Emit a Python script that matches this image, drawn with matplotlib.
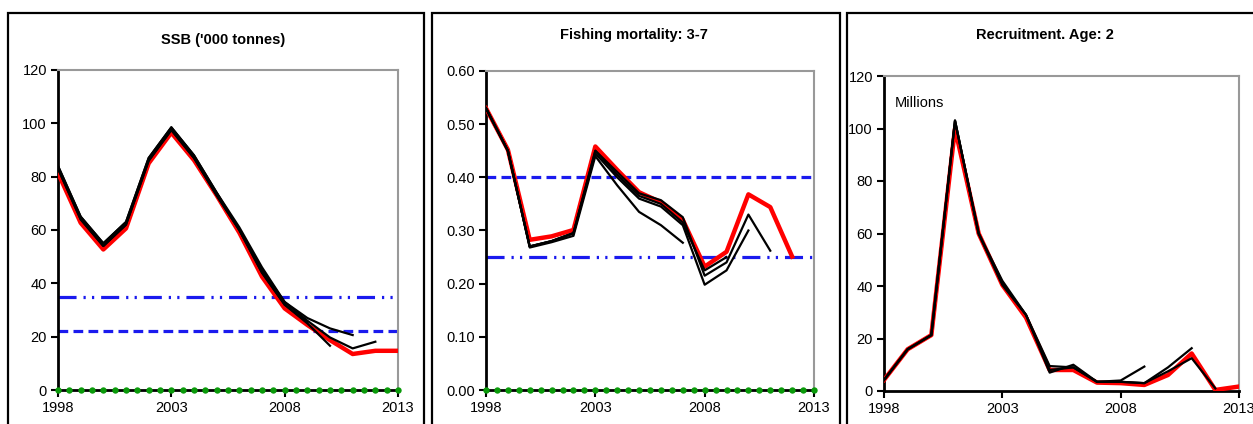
import matplotlib
matplotlib.use("Agg")
import matplotlib.pyplot as plt
from matplotlib.patches import Rectangle

plt.rcParams['font.family'] = ['Liberation Sans', 'DejaVu Sans']
plt.rcParams['lines.scale_dashes'] = False

years = list(range(1998, 2014))

# SSB ('000 tonnes) - retrospective runs, last one is the current assessment
ssb_retro = [
    [84, 65, 55, 63, 87, 98.5, 88, 74, 60, 45, 33, 27, 23.1, 20.6],
    [84, 65, 55, 63, 87, 98.5, 88, 74, 61, 46, 33, 26, 19.7, 15.6, 18.1],
    [83, 64, 54, 62, 86, 97.5, 87, 73, 60, 44, 32, 25, 16.6],
    [83, 64, 54, 62, 86, 97.5, 87, 73, 60, 44, 32, 25.5],
]
ssb_last = [81.4, 62.7, 52.7, 60.6, 85, 96.5, 86.2, 73, 59, 42.5, 30.6, 24.4, 18.7, 13.5, 14.7, 14.7]
ssb_bpa = 35
ssb_blim = 22

# Fishing mortality ages 3-7
f_retro = [
    [0.53, 0.45, 0.27, 0.28, 0.295, 0.45, 0.41, 0.37, 0.357, 0.325, 0.215, 0.24, 0.33, 0.262],
    [0.53, 0.45, 0.27, 0.28, 0.295, 0.445, 0.40, 0.36, 0.345, 0.31, 0.198, 0.225, 0.30],
    [0.53, 0.45, 0.27, 0.28, 0.295, 0.45, 0.405, 0.365, 0.35, 0.315, 0.225, 0.25],
    [0.53, 0.45, 0.268, 0.278, 0.29, 0.44, 0.385, 0.335, 0.31, 0.277],
]
f_last = [0.530, 0.452, 0.2825, 0.289, 0.301, 0.458, 0.414, 0.372, 0.353, 0.32, 0.232, 0.26, 0.368, 0.344, 0.251]
f_pa = 0.40
f_msy = 0.25

# Recruitment age 2 (millions)
r_retro = [
    [4.2, 15.9, 21.3, 103, 60, 42, 29, 7, 10, 3.5, 4, 9.3],
    [4.2, 15.9, 21.3, 103, 60, 41, 29, 9.5, 9, 3.5, 3.5, 3, 9, 16.3],
    [4.2, 15.9, 21.3, 103, 60, 40.4, 29, 8, 9, 3.5, 3.5, 3, 7.5, 12.5, 1],
]
r_last = [4.2, 15.9, 21.3, 100, 60, 40.4, 28, 8, 8, 3.2, 3, 2.3, 6.1, 14.3, 0.4, 1.7]

fig = plt.figure(figsize=(12.53, 4.24), dpi=100)

# panel frames (cut off at the bottom of the picture)
for x0, x1 in [(8, 424), (432, 840), (847, 1262)]:
    fig.patches.append(Rectangle((x0 / 1253, -0.05), (x1 - x0) / 1253, (424 - 13) / 424 + 0.05,
                                 transform=fig.transFigure, fill=False,
                                 edgecolor='black', linewidth=1.6))


def style_axes(ax, ymax, yticks, fmt):
    ax.set_xlim(1998, 2013)
    ax.set_ylim(0, ymax)
    ax.set_xticks([1998, 2003, 2008, 2013])
    ax.set_yticks(yticks)
    ax.set_yticklabels([fmt.format(v) for v in yticks])
    for s in ['left', 'bottom']:
        ax.spines[s].set_color('black')
        ax.spines[s].set_linewidth(2)
    for s in ['top', 'right']:
        ax.spines[s].set_color('#999999')
        ax.spines[s].set_linewidth(1.5)
    ax.tick_params(direction='out', length=5, width=1.5, labelsize=10.5, pad=3)
    ax.patch.set_alpha(0)


half_years = [1998 + 0.5 * i for i in range(31)]


def zero_line(ax):
    # green dotted reference line on the x axis
    ax.plot(half_years, [0] * len(half_years), linestyle='none', marker='o', ms=4.6,
            mew=0, color='#0a9a0a', clip_on=False, zorder=5)


BLUE = '#1a1aee'
DASHDOTDOT = (0, (13, 5, 1.6, 4.5, 1.6, 5))
DASHED = (0, (7, 3.8))

# SSB
ax1 = fig.add_axes([58 / 1253, 34 / 424, 340 / 1253, 320 / 424])
style_axes(ax1, 120, [0, 20, 40, 60, 80, 100, 120], '{:.0f}')
ax1.plot([1998, 2013], [ssb_bpa, ssb_bpa], color=BLUE, lw=2.3, linestyle=DASHDOTDOT)
ax1.plot([1998, 2013], [ssb_blim, ssb_blim], color=BLUE, lw=2.3, linestyle=DASHED)
ax1.plot(years[:len(ssb_last)], ssb_last, color='red', lw=3.2, zorder=3)
for s in ssb_retro:
    ax1.plot(years[:len(s)], s, color='black', lw=1.6, zorder=4)
zero_line(ax1)
fig.text(223 / 1253, 1 - 40 / 424, "SSB ('000 tonnes)", ha='center', va='center',
         fontsize=10.5, fontweight='bold')

# F
ax2 = fig.add_axes([486 / 1253, 34 / 424, 328 / 1253, 319 / 424])
style_axes(ax2, 0.6, [0, 0.1, 0.2, 0.3, 0.4, 0.5, 0.6], '{:.2f}')
ax2.plot([1998, 2013], [f_pa, f_pa], color=BLUE, lw=2.3, linestyle=DASHED)
ax2.plot([1998, 2013], [f_msy, f_msy], color=BLUE, lw=2.3, linestyle=DASHDOTDOT)
ax2.plot(years[:len(f_last)], f_last, color='red', lw=3.2, zorder=3)
for s in f_retro:
    ax2.plot(years[:len(s)], s, color='black', lw=1.6, zorder=4)
zero_line(ax2)
fig.text(634 / 1253, 1 - 35 / 424, "Fishing mortality: 3-7", ha='center', va='center',
         fontsize=10.5, fontweight='bold')

# Recruitment
ax3 = fig.add_axes([884 / 1253, 33 / 424, 355 / 1253, 315 / 424])
style_axes(ax3, 120, [0, 20, 40, 60, 80, 100, 120], '{:.0f}')
ax3.plot(years[:len(r_last)], r_last, color='red', lw=3.2, zorder=3)
for s in r_retro:
    ax3.plot(years[:len(s)], s, color='black', lw=1.6, zorder=4)
ax3.text(0.03, 0.915, "Millions", transform=ax3.transAxes, fontsize=10.5, va='center')
fig.text(1045 / 1253, 1 - 35 / 424, "Recruitment. Age: 2", ha='center', va='center',
         fontsize=10.5, fontweight='bold')

fig.savefig("out.png", dpi=100)
